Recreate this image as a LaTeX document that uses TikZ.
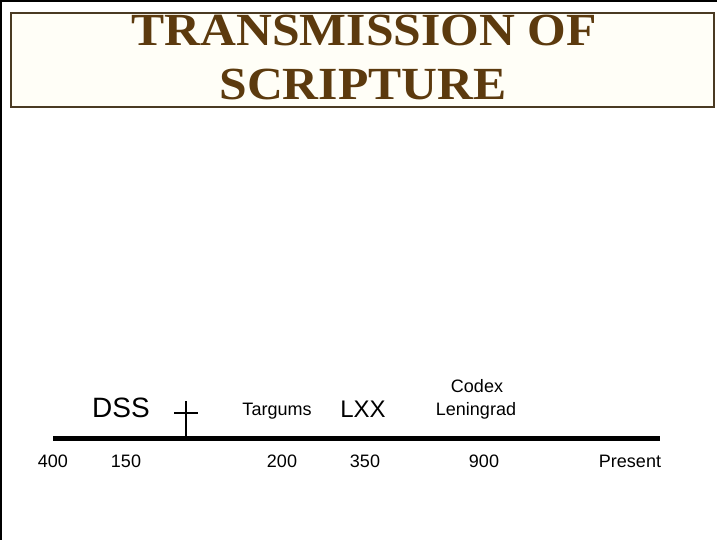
\documentclass[tikz,border=0pt]{standalone}
\usepackage{fontspec}
\setmainfont{Liberation Serif}
\setsansfont{Liberation Sans}
\usepackage{tikz}
\usetikzlibrary{positioning}
\definecolor{titleBrown}{HTML}{5C3A0E}
\definecolor{frameBrown}{HTML}{4A3A22}
\definecolor{frameBg}{HTML}{FFFEF7}
\newcommand{\widetitle}[1]{\scalebox{1.08}[1]{#1}}
\tikzset{
  titletext/.style={
    anchor=base, text=titleBrown, inner sep=0pt,
    font=\fontsize{46}{52}\selectfont\bfseries,
  },
  titleframe/.style={
    draw=frameBrown, line width=2.5pt, fill=frameBg,
  },
  eventlabel/.style={
    anchor=base, inner sep=0pt, font=\sffamily\fontsize{#1}{#1}\selectfont,
  },
  yearlabel/.style={
    anchor=base, inner sep=0pt, font=\sffamily\fontsize{18}{18}\selectfont,
  },
  timeline/.style={
    line width=5pt, draw=black,
  },
  crossbar/.style={
    line width=2.6pt, draw=black,
  },
}

\begin{document}
\begin{tikzpicture}[x=1pt, y=-1pt]
\useasboundingbox (0,0) rectangle (720,540);

% page edges
\draw[line width=1.5pt] (1,540) -- (1,1) -- (717,1);

% title
\draw[titleframe] (11,13) rectangle (714,107);
\node[titletext] (titleA) at (364,46) {\widetitle{TRANSMISSION OF}};
\node[titletext] (titleB) at (363,100) {\widetitle{SCRIPTURE}};

% time line
\coordinate (tlStart) at (53,438);
\coordinate (tlEnd) at (660,438);
\draw[timeline] (tlStart) -- (tlEnd);

% cross
\coordinate (crossTop) at (186,401);
\coordinate (crossFoot) at (186,438);
\coordinate (crossL) at (174,413);
\coordinate (crossR) at (198,413);
\draw[crossbar] (crossTop) -- (crossFoot);
\draw[crossbar] (crossL) -- (crossR);

% events
\node[eventlabel=28] (dss) at (121,417) {DSS};
\node[eventlabel=18] (targ) at (277,415) {Targums};
\node[eventlabel=24] (lxx) at (363,417) {LXX};
\node[eventlabel=18] (codexA) at (477,392) {Codex};
\node[eventlabel=18] (codexB) at (476,415) {Leningrad};

% years
\node[yearlabel] (y400) at (53,467) {400};
\node[yearlabel] (y150) at (126,467) {150};
\node[yearlabel] (y200) at (282,467) {200};
\node[yearlabel] (y350) at (365,467) {350};
\node[yearlabel] (y900) at (484,467) {900};
\node[yearlabel] (ynow) at (630,467) {Present};

\end{tikzpicture}
\end{document}
